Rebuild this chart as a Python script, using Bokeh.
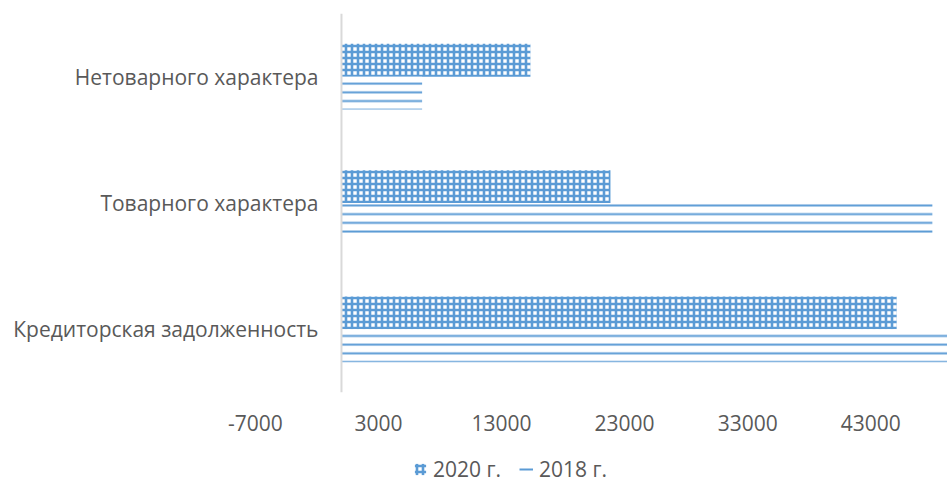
from bokeh.plotting import figure
from bokeh.layouts import column
from bokeh.models import FactorRange, Range1d, FixedTicker, Span, Legend, LegendItem, ColumnDataSource
from bokeh.transform import dodge
from bokeh.core.properties import value
from bokeh.embed import file_html
from bokeh.resources import INLINE

# ---- data ----
categories = ["Кредиторская задолженность", "Товарного характера", "Нетоварного характера"]
values_2020 = [45100, 21850, 15350]
values_2018 = [55000, 48000, 6550]
tick_values = [-7000, 3000, 13000, 23000, 33000, 43000]
series_names = ["2020 г.", "2018 г."]

FONT = "Open Sans"
FS = "21px"
TXT = "#595959"
BLUE = "#5b9bd5"
STYLE_2020 = dict(fill_color="white", line_color=None, hatch_pattern="cross",
                  hatch_color=BLUE, hatch_scale=6, hatch_weight=2.6)
STYLE_2018 = dict(fill_color="white", line_color=None, hatch_pattern="horizontal_line",
                  hatch_color=BLUE, hatch_scale=8.7, hatch_weight=2)

src = ColumnDataSource(dict(cat=categories, v2020=values_2020, v2018=values_2018,
                            zero=[0] * len(categories)))

p = figure(width=947, height=438, output_backend="svg", toolbar_location=None,
           y_range=FactorRange(factors=categories, range_padding=0),
           x_range=Range1d(-27700, 49230))
p.min_border_left = 0
p.min_border_right = 0
p.min_border_top = 13
p.min_border_bottom = 46
p.outline_line_color = None
p.xgrid.visible = False
p.ygrid.visible = False
p.yaxis.visible = False
p.background_fill_color = "white"
p.border_fill_color = "white"

xa = p.xaxis[0]
xa.ticker = FixedTicker(ticks=tick_values)
xa.major_label_overrides = {t: str(t) for t in tick_values}
xa.axis_line_color = None
xa.major_tick_line_color = None
xa.minor_tick_line_color = None
xa.major_label_text_font = FONT
xa.major_label_text_font_size = FS
xa.major_label_text_color = TXT
xa.major_label_standoff = 16

p.hbar(y=dodge("cat", 0.13, range=p.y_range), left=0, right="v2020", height=0.26,
       source=src, **STYLE_2020)
p.hbar(y=dodge("cat", -0.13, range=p.y_range), left=0, right="v2018", height=0.26,
       source=src, **STYLE_2018)

# vertical axis line at zero
p.add_layout(Span(location=0, dimension="height", line_color="#d9d9d9", line_width=2))

# category labels
p.text(x="zero", y="cat", text="cat", source=src, x_offset=-23, text_align="right",
       text_baseline="middle", text_font=value(FONT), text_font_size=FS, text_color=TXT)

# ---- legend strip ----
lg = figure(width=947, height=45, output_backend="svg", toolbar_location=None,
            x_range=Range1d(0, 1), y_range=Range1d(0, 1))
lg.min_border = 0
lg.outline_line_color = None
lg.axis.visible = False
lg.grid.visible = False
lg.background_fill_color = "white"
lg.border_fill_color = "white"
nan = float("nan")
k2020 = lg.hbar(y=[nan], left=[nan], right=[nan], height=0.1, **STYLE_2020)
k2018 = lg.line(x=[nan], y=[nan], line_color=BLUE, line_width=2)
legend = Legend(items=[LegendItem(label=series_names[0], renderers=[k2020]),
                       LegendItem(label=series_names[1], renderers=[k2018])],
                orientation="horizontal", location=(413, 0),
                label_text_font=FONT, label_text_font_size=FS, label_text_color=TXT,
                glyph_width=14, glyph_height=14, label_standoff=6, spacing=18,
                border_line_color=None, background_fill_alpha=0, padding=0, margin=0)
lg.add_layout(legend, "center")

layout = column(p, lg, spacing=0)
open("out.html", "w").write(file_html(layout, INLINE))
